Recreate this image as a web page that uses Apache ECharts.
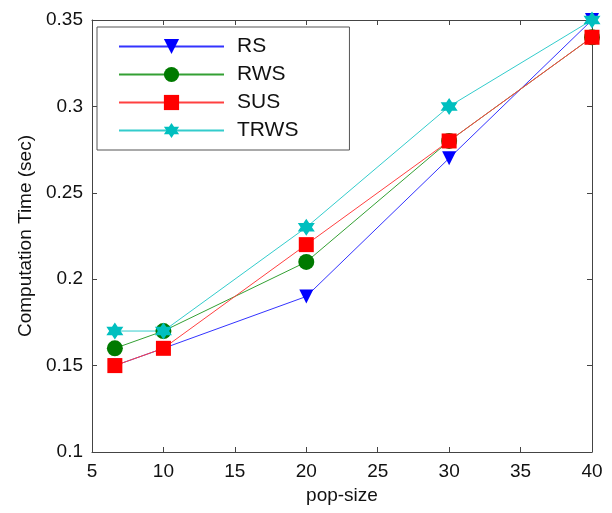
<!DOCTYPE html>
<html>
<head>
<meta charset="utf-8">
<script src="https://cdn.jsdelivr.net/npm/echarts@6/dist/echarts.min.js"></script>
<style>
html,body{margin:0;padding:0;background:#fff;}
#chart{width:612px;height:513px;}
</style>
</head>
<body>
<div id="chart"></div>
<script>
var popSize = [6.6, 10, 20, 30, 40];
var seriesNames = ['RS', 'RWS', 'SUS', 'TRWS'];
var rsValues = [0.15, 0.16, 0.19, 0.27, 0.35];
var rwsValues = [0.16, 0.17, 0.21, 0.28, 0.34];
var susValues = [0.15, 0.16, 0.22, 0.28, 0.34];
var trwsValues = [0.17, 0.17, 0.23, 0.30, 0.35];

var FONT = 'Liberation Sans, Arial, sans-serif';
var hexagram = 'path://M0,-10 L2.887,-5 L8.66,-5 L5.774,0 L8.66,5 L2.887,5 L0,10 L-2.887,5 L-8.66,5 L-5.774,0 L-8.66,-5 L-2.887,-5 Z';

function pairs(vals) {
  return popSize.map(function (x, i) { return [x, vals[i]]; });
}

function mkSeries(name, vals, color, symbol, size, markerColor, rotate) {
  return {
    name: name,
    type: 'line',
    data: pairs(vals),
    symbol: symbol,
    symbolSize: size,
    symbolRotate: rotate || 0,
    showAllSymbol: true,
    lineStyle: { color: color, width: 1 },
    itemStyle: { color: markerColor || color, borderWidth: 0 },
    emphasis: { disabled: true },
    animation: false
  };
}

var chart = echarts.init(document.getElementById('chart'));
var axisLine = { show: true, lineStyle: { color: '#444', width: 1 } };
chart.setOption({
  animation: false,
  grid: { left: 92, right: 20, top: 20, bottom: 61, containLabel: false },
  xAxis: [{
    type: 'value', min: 5, max: 40, interval: 5,
    name: 'pop-size', nameLocation: 'middle', nameGap: 33,
    nameTextStyle: { fontFamily: FONT, fontSize: 19, color: '#111' },
    axisLine: axisLine,
    axisTick: { inside: true, length: 5, lineStyle: { color: '#444' } },
    axisLabel: { fontFamily: FONT, fontSize: 19, color: '#111', margin: 10 },
    splitLine: { show: false }
  }, {
    type: 'value', min: 5, max: 40, interval: 5, position: 'top',
    axisLine: axisLine,
    axisTick: { inside: true, length: 5, lineStyle: { color: '#444' } },
    axisLabel: { show: false },
    splitLine: { show: false }
  }],
  yAxis: [{
    type: 'value', min: 0.1, max: 0.35, interval: 0.05,
    name: 'Computation Time (sec)', nameLocation: 'middle', nameGap: 54,
    nameTextStyle: { fontFamily: FONT, fontSize: 19, color: '#111' },
    axisLine: axisLine,
    axisTick: { inside: true, length: 5, lineStyle: { color: '#444' } },
    axisLabel: { fontFamily: FONT, fontSize: 19, color: '#111', margin: 9,
      formatter: function (v) { return String(+v.toFixed(2)); } },
    splitLine: { show: false }
  }, {
    type: 'value', min: 0.1, max: 0.35, interval: 0.05, position: 'right',
    axisLine: axisLine,
    axisTick: { inside: true, length: 5, lineStyle: { color: '#444' } },
    axisLabel: { show: false },
    splitLine: { show: false }
  }],
  legend: {
    data: seriesNames,
    orient: 'vertical',
    left: 97, top: 27,
    padding: [9, 51, 9, 21],
    itemWidth: 105, itemHeight: 19, itemGap: 7,
    borderColor: '#555', borderWidth: 1, backgroundColor: '#fff',
    textStyle: { fontFamily: FONT, fontSize: 21, color: '#111', lineHeight: 21, padding: [0, 0, 0, 8] },
    selectedMode: false
  },
  series: [
    mkSeries('RS', rsValues, '#3333ff', 'triangle', 14, '#0000ff', 180),
    mkSeries('RWS', rwsValues, '#33a033', 'circle', 16, '#007a00'),
    mkSeries('SUS', susValues, '#ff4040', 'rect', 15, '#ff0000'),
    mkSeries('TRWS', trwsValues, '#33cccc', hexagram, 17, '#00bfbf')
  ]
});
</script>
</body>
</html>
